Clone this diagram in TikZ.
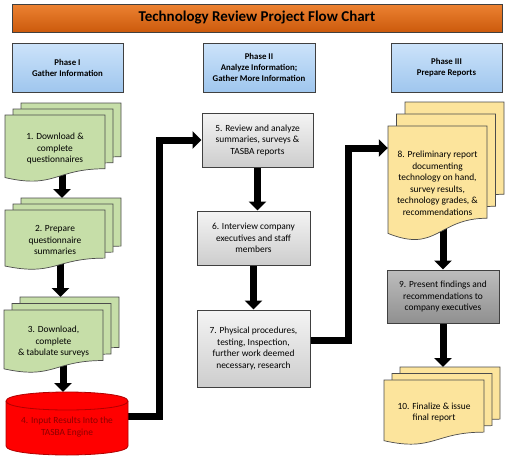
\documentclass[tikz,border=0pt]{standalone}
\usepackage{fontspec}
\setmainfont{Carlito}
\usetikzlibrary{arrows.meta,shadows}

\definecolor{bannertop}{HTML}{EC8232}
\definecolor{bannerbot}{HTML}{CC5A0C}
\definecolor{phasetop}{HTML}{CCE3FA}
\definecolor{phasebot}{HTML}{9FC6EE}
\definecolor{steptop}{HTML}{F4F4F4}
\definecolor{stepbot}{HTML}{CDCDCD}
\definecolor{darktop}{HTML}{BDBDBD}
\definecolor{darkbot}{HTML}{909090}
\definecolor{sheetgreen}{HTML}{C6DEA8}
\definecolor{sheetyellow}{HTML}{FCE49C}
\definecolor{enginered}{HTML}{FF0000}
\definecolor{engineline}{HTML}{B00000}
\definecolor{enginetext}{HTML}{8B0000}

\newcommand{\bodyfont}{\fontsize{9.4}{11.5}\selectfont}

\pgfdeclarelayer{flows}
\pgfsetlayers{flows,main}

\tikzset{
  banner/.style={draw=black!75, line width=0.8pt, top color=bannertop, bottom color=bannerbot,
    minimum width=490pt, minimum height=28pt, font=\bfseries\fontsize{15}{17}\selectfont},
  phasebox/.style={draw=black!75, line width=1pt, top color=phasetop, bottom color=phasebot,
    minimum width=111pt, minimum height=49pt, align=center,
    font=\bfseries\fontsize{8.8}{11}\selectfont,
    drop shadow={shadow xshift=1.2pt, shadow yshift=-1.2pt, opacity=0.4}},
  stepbox/.style={draw=black!75, line width=1pt, top color=steptop, bottom color=stepbot,
    align=center, font=\bodyfont,
    drop shadow={shadow xshift=1.2pt, shadow yshift=-1.2pt, opacity=0.4}},
  sheettext/.style={inner sep=0pt, align=center, font=\bodyfont},
  sheetline/.style={draw=black!70, line width=0.7pt},
  engine/.style={draw=engineline, line width=0.8pt, fill=enginered},
  flow/.style={line width=7pt, -{Triangle[length=9pt,width=17pt]}},
}

% one page of a document shape: left, top, width, height, fill
\newcommand{\docsheet}[5]{%
  \draw[sheetline,fill=#5] ({#1},{#2}) -- ({#1+#3},{#2}) -- ({#1+#3},{#2+0.802*#4})
    .. controls ({#1+0.5*#3},{#2+0.802*#4}) and ({#1+0.5*#3},{#2+1.107*#4}) .. ({#1},{#2+0.934*#4}) -- cycle;}

% stack of three pages with its text: name, left, top, width, height, dx, dy, fill, text
\newcommand{\docstack}[9]{%
  \foreach \k in {2,1,0}{\docsheet{#2+\k*#6}{#3-\k*#7}{#4}{#5}{#8}}
  \node[sheettext, minimum width=#4, minimum height=#5] (#1) at ({#2+0.5*#4},{#3+0.5*#5}) {#9};
  \coordinate (#1top) at ({#2+0.5*#4+7},{#3-2*#7});}

\begin{document}
\begin{tikzpicture}[x=1pt,y=-1pt]
  \useasboundingbox (0,0) rectangle (509,464);

  % Title and phases
  \node[banner] (title) at (257,18) {Technology Review Project Flow Chart};
  \node[phasebox] (ph1) at (67.5,67.5) {Phase I\\Gather Information};
  \node[phasebox, minimum width=112pt] (ph2) at (259,67.5) {Phase II\\Analyze Information;\\Gather More Information};
  \node[phasebox] (ph3) at (446.5,67.5) {Phase III\\Prepare Reports};

  % Phase I
  \docstack{d1}{5}{115}{100}{67}{8}{6}{sheetgreen}{1. Download \&\\complete\\questionnaires}
  \docstack{d2}{5}{210}{100}{60}{8}{6}{sheetgreen}{2. Prepare\\questionnaire\\summaries}
  \docstack{d3}{4}{310}{99}{63}{8}{6.5}{sheetgreen}{3. Download,\\complete\\\& tabulate surveys}

  \draw[engine] (6,401) -- (6,446) .. controls (6,458) and (128,458) .. (128,446)
    -- (128,401) .. controls (128,389) and (6,389) .. cycle;
  \draw[engine] (6,401) .. controls (6,413) and (128,413) .. (128,401);
  \node[font=\bodyfont, text=enginetext, align=center, minimum width=122pt, minimum height=56pt]
    (c4) at (67,427) {4. Input Results Into the\\TASBA Engine};
  \coordinate (c4in) at (63,392);

  % Phase II
  \node[stepbox, minimum width=111pt, minimum height=54pt] (b5) at (257.5,140) {5. Review and analyze\\summaries, surveys \&\\TASBA reports};
  \node[stepbox, minimum width=113pt, minimum height=54pt] (b6) at (253.5,238) {6. Interview company\\executives and staff\\members};
  \node[stepbox, minimum width=113pt, minimum height=77pt] (b7) at (253.5,348.5) {7. Physical procedures,\\testing, Inspection,\\further work deemed\\necessary, research};

  % Phase III
  \docstack{d8}{388}{126}{99}{115}{8.5}{12}{sheetyellow}{8. Preliminary report\\documenting\\technology on hand,\\survey results,\\technology grades, \&\\recommendations}
  \node[stepbox, top color=darktop, bottom color=darkbot, minimum width=112pt, minimum height=53pt] (b9) at (443,296.5) {9. Present findings and\\recommendations to\\company executives};
  \docstack{d10}{384}{380}{100}{65}{8}{6.5}{sheetyellow}{10. Finalize \& issue\\final report}

  % Flow
  \begin{pgfonlayer}{flows}
    \draw[flow] (d1.center -| d2top) -- (d2top);
    \draw[flow] (d2.center -| d3top) -- (d3top);
    \draw[flow] (d3.center -| c4in) -- (c4in);
    \draw[flow] ([yshift=11pt]c4.east) -- ++(31,0) |- (b5.west);
    \draw[flow] (b5.south) -- (b5.south |- b6.north);
    \draw[flow] (b6.south) -- (b7.north);
    \draw[flow] ([yshift=8.5pt]b7.east) -- ++(38,0) |- ([yshift=35.5pt]d8.west);
    \draw[flow] (d8.center -| b9.north) -- (b9.north);
    \draw[flow] (b9.south) -- (b9.south |- d10top);
  \end{pgfonlayer}
\end{tikzpicture}
\end{document}
